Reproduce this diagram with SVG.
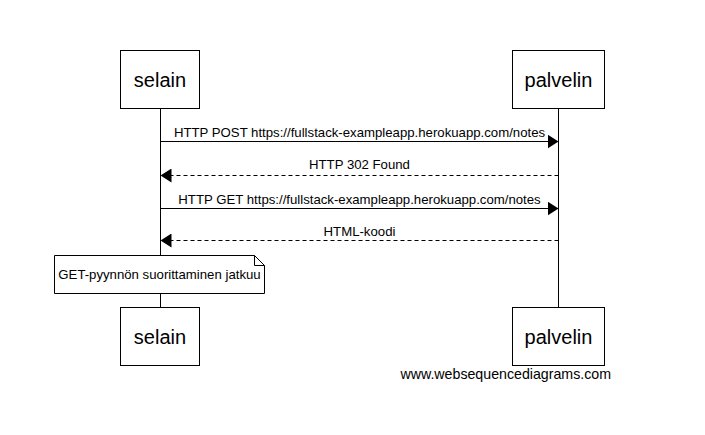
<svg xmlns="http://www.w3.org/2000/svg" width="705" height="435" viewBox="0 0 705 435">
<style>
.box{fill:#fff;stroke:#000;stroke-width:1}
.life{stroke:#000;stroke-width:1}
.big{font-family:"Liberation Sans",Arial,sans-serif;font-size:20px;fill:#000;text-anchor:middle}
.lbl{font-family:"Liberation Sans",Arial,sans-serif;font-size:13.2px;fill:#000;text-anchor:middle}
.msg{stroke:#000;stroke-width:1;fill:none}
.dash{stroke-dasharray:4,3}
</style>
<defs>
<marker id="ah" markerWidth="12" markerHeight="14" refX="11" refY="7" orient="auto" markerUnits="userSpaceOnUse">
<path d="M0,0 L11,7 L0,14 Z" fill="#000"/>
</marker>
</defs>
<rect width="705" height="435" fill="#fff"/>
<g id="lifelines">
<line class="life" x1="160.5" y1="109" x2="160.5" y2="307"/>
<line class="life" x1="558.5" y1="109" x2="558.5" y2="307"/>
</g>
<g id="selain-top"><rect class="box" x="120.5" y="50.5" width="79" height="58"/><text class="big" x="160" y="87">selain</text></g>
<g id="palvelin-top"><rect class="box" x="512.5" y="50.5" width="92" height="58"/><text class="big" x="558.5" y="87">palvelin</text></g>
<g id="selain-bottom"><rect class="box" x="120.5" y="307.5" width="79" height="58"/><text class="big" x="160" y="344">selain</text></g>
<g id="palvelin-bottom"><rect class="box" x="512.5" y="307.5" width="92" height="58"/><text class="big" x="558.5" y="344">palvelin</text></g>
<g id="connectors">
<line class="msg" x1="160.5" y1="141.5" x2="558.5" y2="141.5" marker-end="url(#ah)"/>
<text class="lbl" x="359.5" y="137">HTTP POST https://fullstack-exampleapp.herokuapp.com/notes</text>
<line class="msg dash" x1="558.5" y1="175.5" x2="160.5" y2="175.5" marker-end="url(#ah)"/>
<text class="lbl" x="359.5" y="169">HTTP 302 Found</text>
<line class="msg" x1="160.5" y1="208.5" x2="558.5" y2="208.5" marker-end="url(#ah)"/>
<text class="lbl" x="359.5" y="204">HTTP GET https://fullstack-exampleapp.herokuapp.com/notes</text>
<line class="msg dash" x1="558.5" y1="240.5" x2="160.5" y2="240.5" marker-end="url(#ah)"/>
<text class="lbl" x="359.5" y="236">HTML-koodi</text>
</g>
<g id="note">
<path d="M54.5,255.5 L254.5,255.5 L264.5,265.5 L264.5,293.5 L54.5,293.5 Z" fill="#fff" stroke="#000"/>
<path d="M254.5,255.5 L254.5,265.5 L264.5,265.5" fill="none" stroke="#000"/>
<text class="lbl" x="159.5" y="279">GET-pyynnön suorittaminen jatkuu</text>
</g>
<text x="611" y="379" font-family="Liberation Sans,Arial,sans-serif" font-size="14.2" text-anchor="end" fill="#000">www.websequencediagrams.com</text>
</svg>
